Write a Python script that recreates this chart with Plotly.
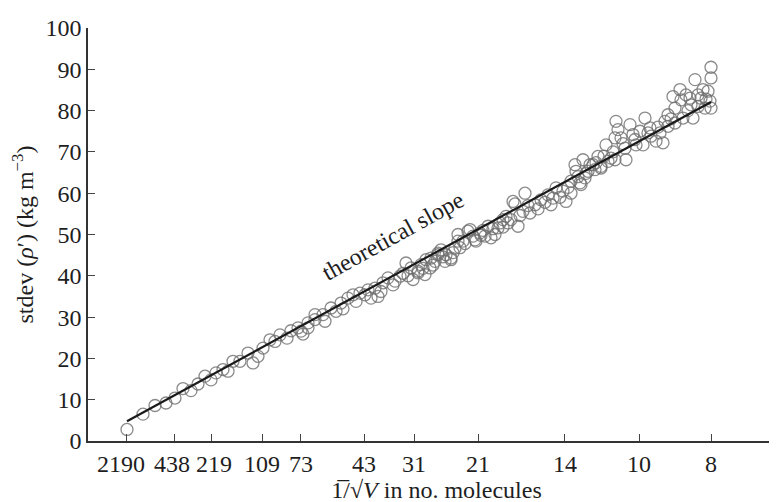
import plotly.graph_objects as go

# x values are 1000/sqrt(V); y values are stdev(rho') in kg m^-3
x_points = [21.37, 30.47, 37.30, 43.55, 48.67, 53.22, 57.77, 61.75, 65.74, 69.15,
            71.99, 75.97, 78.82, 81.66, 85.64, 90.19, 93.04, 95.88, 98.73, 102.71,
            105.55, 108.40, 112.38, 114.65, 118.63, 120.34, 121.48, 124.32, 124.32, 128.30,
            128.30, 132.85, 133.99, 137.41, 140.25, 143.09, 147.07, 149.92, 153.90, 156.74,
            160.16, 162.43, 165.85, 166.98, 169.83, 173.81, 176.65, 180.07, 182.91, 184.05,
            186.89, 186.89, 188.60, 190.87, 191.44, 193.72, 194.29, 196.56, 198.27, 198.27,
            199.97, 202.25, 202.82, 205.66, 205.66, 207.94, 209.64, 209.64, 212.49, 213.62,
            215.33, 216.47, 219.31, 219.88, 222.16, 222.73, 225.00, 226.71, 228.41, 230.69,
            232.39, 233.53, 235.24, 236.95, 238.08, 239.79, 240.93, 242.06, 243.77, 246.61,
            247.75, 250.60, 253.44, 256.85, 260.83, 262.54, 265.39, 269.37, 271.07, 273.92,
            273.92, 276.19, 276.76, 279.04, 279.61, 280.74, 281.88, 283.59, 284.72, 286.43,
            287.57, 289.27, 290.98, 290.98, 293.83, 294.96, 296.67, 298.94, 298.94, 299.51,
            300.65, 302.36, 304.63, 305.20, 307.48, 309.18, 310.89, 313.16, 314.87, 316.01,
            318.85, 319.42, 322.27, 324.54, 326.25, 327.38, 329.09, 329.09, 331.93, 333.07,
            333.07, 335.92, 336.49, 337.62, 339.33, 341.60, 342.17, 343.31, 344.45, 346.15,
            347.86, 349.00, 350.14, 351.84, 352.98, 353.55, 353.55, 353.55,
            144.23, 151.63, 158.45, 164.14, 172.67, 178.36, 181.20, 189.73, 195.42, 201.11,
            206.80, 210.78, 218.17, 223.86, 229.55, 235.24, 244.91, 249.46, 255.15, 259.13,
            263.68, 267.66, 272.21, 277.90, 282.45, 288.14, 292.69, 297.81, 303.49, 310.32,
            317.71, 323.40, 330.80, 340.47, 346.15, 350.71]
y_points = [2.8, 6.5, 8.6, 9.2, 10.4, 12.7, 12.2, 13.8, 15.7, 14.8,
            16.5, 17.3, 16.9, 19.3, 19.3, 21.3, 18.9, 20.5, 22.5, 24.5,
            24.1, 25.7, 24.9, 26.7, 27.4, 26.6, 25.9, 28.6, 27.4, 30.6,
            29.4, 30.6, 29.0, 32.2, 31.4, 33.4, 34.6, 35.4, 35.8, 35.4,
            34.6, 37.0, 36.2, 38.3, 39.5, 38.7, 39.9, 43.1, 41.9, 39.1,
            41.1, 40.7, 42.7, 40.3, 43.9, 41.9, 44.3, 43.5, 45.5, 45.1,
            46.3, 43.5, 45.1, 43.9, 44.3, 46.7, 48.4, 50.0, 48.4, 47.8,
            50.8, 51.2, 48.7, 48.4, 50.4, 49.8, 49.6, 52.0, 49.2, 50.0,
            51.6, 52.8, 53.6, 54.4, 52.8, 53.6, 58.0, 57.4, 52.0, 55.6,
            60.0, 55.2, 57.2, 58.4, 59.6, 57.2, 61.3, 60.5, 58.0, 62.9,
            60.0, 66.9, 65.3, 62.5, 62.1, 68.1, 63.7, 65.3, 66.9, 66.9,
            65.7, 68.9, 66.1, 66.5, 71.7, 67.7, 68.5, 73.4, 68.1, 77.4,
            75.4, 73.4, 70.9, 68.1, 76.6, 74.2, 71.7, 75.0, 71.7, 78.2,
            75.8, 73.8, 72.6, 74.6, 72.2, 77.4, 79.0, 76.2, 83.4, 80.6,
            77.0, 85.1, 82.6, 78.2, 83.8, 83.0, 81.4, 78.2, 87.5, 83.8,
            83.0, 85.1, 80.6, 84.7, 82.3, 80.6, 90.5, 87.9,
            32.0, 33.8, 36.6, 35.0, 37.8, 40.6, 40.0, 41.8, 42.6, 44.6,
            45.6, 46.8, 49.6, 51.0, 51.4, 51.8, 54.6, 57.0, 56.2, 57.8,
            58.8, 59.0, 61.4, 64.0, 64.8, 67.4, 69.0, 70.0, 72.0, 73.0,
            74.6, 76.0, 78.0, 80.0, 81.0, 82.8]

slope_x = [21.37, 353.55]
slope_y = [4.8, 82.1]

tick_vals = [21.37, 48.67, 69.15, 98.16, 120.34, 156.18, 184.62, 221.02, 270.50, 312.60, 353.55]
tick_text = ["2190\u00a0\u00a0", "438\u00a0", "\u00a0219", "109", "73", "43", "31", "21", "14", "10", "8"]

FONT = "Liberation Serif, Times New Roman, serif"
TXT = "#1e1e1e"
FS = 24

fig = go.Figure()
fig.add_trace(go.Scatter(
    x=x_points, y=y_points, mode="markers",
    marker=dict(symbol="circle-open", size=12, color="rgba(110,110,110,0.8)",
                line=dict(width=1.3, color="rgba(110,110,110,0.8)")),
    showlegend=False, hoverinfo="skip"))
fig.add_trace(go.Scatter(
    x=slope_x, y=slope_y, mode="lines",
    line=dict(color="#1a1a1a", width=2.2), showlegend=False, hoverinfo="skip"))

fig.add_annotation(x=172.67, y=49.6, xref="x", yref="y", text="theoretical slope",
                   showarrow=False, textangle=-29, xanchor="center", yanchor="middle",
                   font=dict(family=FONT, size=FS, color=TXT))

fig.update_layout(
    width=777, height=502,
    margin=dict(l=80, r=0, t=20, b=69),
    paper_bgcolor="white", plot_bgcolor="white",
    font=dict(family=FONT, size=FS, color=TXT),
    xaxis=dict(range=[-0.81, 395.64], tickmode="array", tickvals=tick_vals, ticktext=tick_text,
               tickangle=0,
               showline=True, linecolor="#333333", linewidth=1.5, showgrid=False, zeroline=False,
               ticks="inside", ticklen=7, tickwidth=1.3, tickcolor="#444444",
               tickfont=dict(family=FONT, size=FS, color=TXT),
               title=dict(text="1\u0305/\u221a<i>V</i> in no. molecules",
                          font=dict(family=FONT, size=FS, color=TXT), standoff=0)),
    yaxis=dict(range=[0, 100], tickmode="array", tickvals=list(range(0, 101, 10)),
               showline=True, linecolor="#333333", linewidth=1.5, showgrid=False, zeroline=False,
               ticks="inside", ticklen=7, tickwidth=1.3, tickcolor="#444444",
               tickfont=dict(family=FONT, size=FS, color=TXT),
               title=dict(text="stdev (<i>\u03c1</i>\u2032) (kg m<sup>\u22123</sup>)",
                          font=dict(family=FONT, size=FS, color=TXT), standoff=8)),
)

fig.write_html("out.html")
